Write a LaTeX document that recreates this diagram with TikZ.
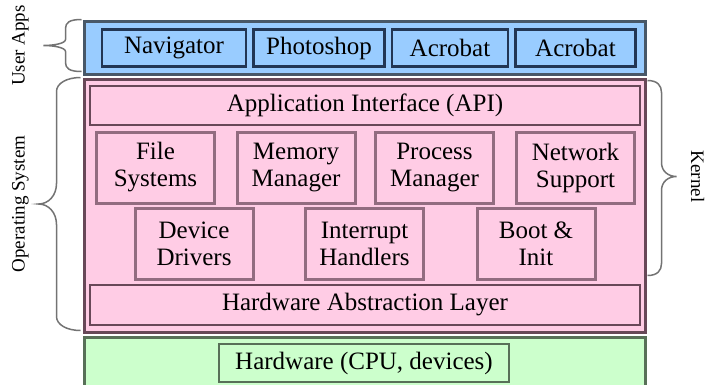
\documentclass[tikz,border=0pt]{standalone}
\usepackage{fontspec}
\setmainfont{Liberation Serif}
\usetikzlibrary{positioning}
\definecolor{app colour}{RGB}{153,204,255}
\definecolor{os colour}{RGB}{255,204,229}
\definecolor{hw colour}{RGB}{204,255,204}
\definecolor{app edge}{RGB}{72,88,104}
\definecolor{app box edge}{RGB}{34,54,84}
\definecolor{os edge}{RGB}{104,72,88}
\definecolor{part edge}{RGB}{146,108,128}
\definecolor{hw edge}{RGB}{88,112,88}
\colorlet{brace colour}{black!55}
\tikzset{
    % Big blocks first, then the boxes inside them
    band/.style={draw, line width=3pt, inner sep=0, minimum width=561pt},
    layer box/.style={draw, line width=2.5pt, inner sep=0,
        font=\fontsize{25}{27}\selectfont},
    part box/.style={layer box, draw=part edge, line width=3pt,
        minimum width=118pt, minimum height=71pt},
    % Curly braces and their labels at the sides
    brace line/.style={draw=brace colour, line width=1.5pt},
    side label/.style={font=\fontsize{19}{21}\selectfont, inner sep=0},
    % We almost always want centre aligned node text
    every node/.style={align=center},
}

\begin{document}
\begin{tikzpicture}[x=1pt, y=-1pt]

\useasboundingbox (0,0) rectangle (705,384);

% User applications
\path
    (364.5,47.5) node [band, draw=app edge, fill=app colour,
        minimum height=53pt] (user apps) {}
    (174,48) node [layer box, draw=app box edge, minimum width=144pt,
        minimum height=37pt] (navigator) {Navigator};
\node [layer box, draw=app box edge, minimum width=131pt, minimum height=37pt,
    right=5pt of navigator] (photoshop) {Photoshop};
\node [layer box, draw=app box edge, minimum width=116pt, minimum height=37pt,
    right=5pt of photoshop] (acrobat) {Acrobat};
\node [layer box, draw=app box edge, minimum width=120pt, minimum height=37pt,
    right=5pt of acrobat] (acrobat 2) {Acrobat};

% Operating system
\path
    (364.5,205.5) node [band, draw=os edge, fill=os colour,
        minimum height=253pt] (os) {}
    (365,105.5) node [layer box, draw=os edge, minimum width=550pt,
        minimum height=39pt] (api) {Application Interface (API)}
    (365,305) node [layer box, draw=os edge, minimum width=550pt,
        minimum height=40pt] (hal) {Hardware Abstraction Layer};

\path
    (155.5,167.5) node [part box] (file sys) {File\\Systems}
    ++(140.5,0) node [part box] (mem mgr) {Memory\\Manager}
    ++(138.5,0) node [part box] (proc mgr) {Process\\Manager}
    ++(141,0) node [part box] (net sup) {Network\\Support};
\path
    (194,243.5) node [part box] (dev drv) {Device\\Drivers}
    ++(170.5,0) node [part box] (irq) {Interrupt\\Handlers}
    ++(171.5,0) node [part box] (boot) {Boot \&\\Init};

% Hardware
\path
    (364.5,364.5) node [band, draw=hw edge, fill=hw colour,
        minimum height=55pt] (hw band) {}
    (364,363) node [layer box, draw=hw edge, minimum width=290pt,
        minimum height=38pt] (hw) {Hardware (CPU, devices)};


% Braces
\draw [brace line] ([xshift=-1pt]user apps.north west)
    .. controls +(-12,0) and +(0,-6) .. ++(-16,9) -- ++(0,11)
    .. controls +(0,4) and +(10,0) .. ++(-22,6) coordinate (user tip)
    .. controls +(10,0) and +(0,-4) .. ++(22,6) -- ++(0,11)
    .. controls +(0,6) and +(-12,0) .. ++(16,9);
\draw [brace line] ([xshift=-2pt]os.north west)
    .. controls +(-14,0) and +(0,-8) .. ++(-24,14) -- ++(0,92)
    .. controls +(0,12) and +(10,0) .. ++(-18,20.5) coordinate (os tip)
    .. controls +(10,0) and +(0,-12) .. ++(18,20.5) -- ++(0,92)
    .. controls +(0,8) and +(-14,0) .. ++(24,14);
\draw [brace line] ([xshift=1pt, yshift=-3pt]os.north east)
    .. controls +(10,0) and +(0,-7) .. ++(14,12) -- ++(0,70)
    .. controls +(0,9) and +(-8,0) .. ++(15,14) coordinate (kernel tip)
    .. controls +(-8,0) and +(0,-9) .. ++(-15,14) -- ++(0,73)
    .. controls +(0,7) and +(10,0) .. ++(-14,12);

\path
    (user tip) ++(-23,0) node [side label, rotate=90] (user label) {User Apps}
    (os tip) ++(-18,0) node [side label, rotate=90] (os label)
        {Operating System}
    (kernel tip) ++(21,0) node [side label, rotate=-90] (kernel label)
        {Kernel};

\end{tikzpicture}
\end{document}
